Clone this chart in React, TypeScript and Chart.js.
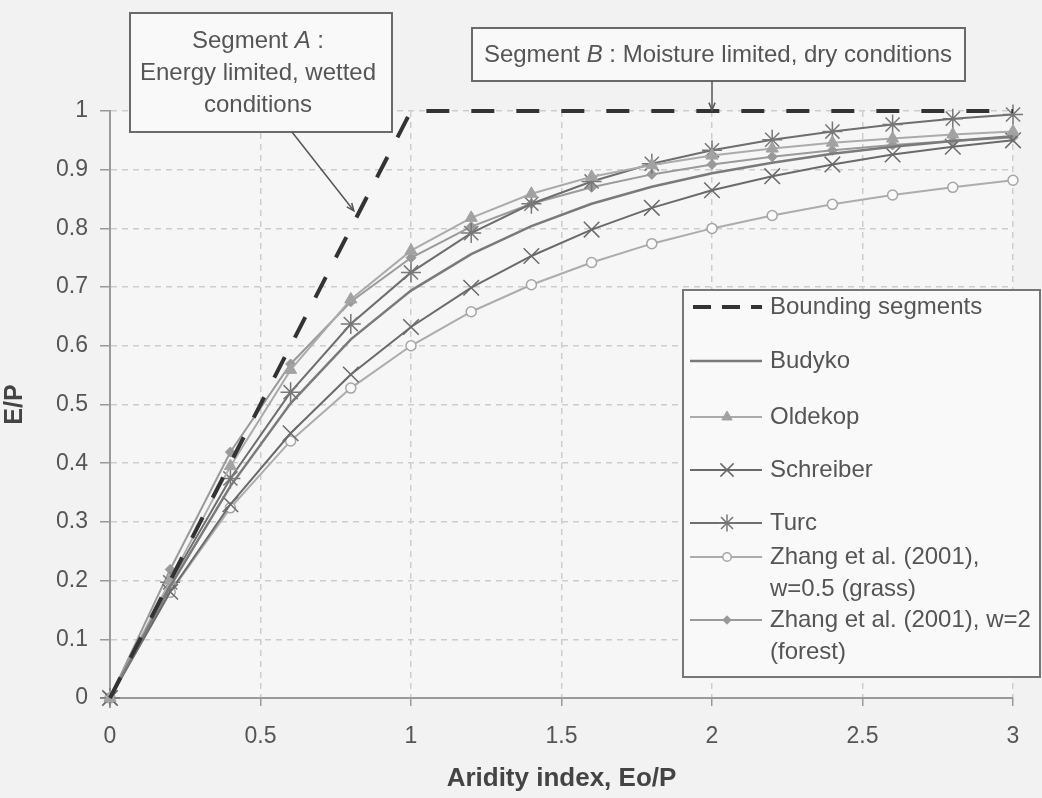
import React, { useEffect, useRef } from 'react';
import { Chart, registerables } from 'chart.js';
import { drawPoint } from 'chart.js/helpers';

Chart.register(...registerables);

const FONT = "'Liberation Sans', Arial, Helvetica, sans-serif";

// ---- data ----
const aridity = [0, 0.2, 0.4, 0.6, 0.8, 1.0, 1.2, 1.4, 1.6, 1.8, 2.0, 2.2, 2.4, 2.6, 2.8, 3.0];
const boundX = [0, 1, 3];
const boundY = [0, 1, 1];
const budyko = [0, 0.190, 0.361, 0.502, 0.611, 0.694, 0.756, 0.804, 0.842, 0.871, 0.894, 0.912, 0.927, 0.939, 0.949, 0.957];
const oldekop = [0, 0.200, 0.395, 0.559, 0.679, 0.762, 0.818, 0.859, 0.888, 0.908, 0.924, 0.936, 0.946, 0.953, 0.960, 0.965];
const schreiber = [0, 0.181, 0.330, 0.451, 0.551, 0.632, 0.699, 0.753, 0.798, 0.835, 0.865, 0.889, 0.909, 0.926, 0.939, 0.950];
const turc = [0, 0.197, 0.374, 0.521, 0.637, 0.725, 0.792, 0.842, 0.880, 0.910, 0.933, 0.951, 0.965, 0.977, 0.987, 0.994];
const zhangGrass = [0, 0.180, 0.324, 0.438, 0.528, 0.600, 0.658, 0.704, 0.742, 0.774, 0.800, 0.822, 0.841, 0.857, 0.870, 0.882];
const zhangForest = [0, 0.219, 0.419, 0.569, 0.675, 0.750, 0.803, 0.842, 0.870, 0.892, 0.909, 0.922, 0.933, 0.942, 0.949, 0.955];

const seriesNames = [
  'Bounding segments',
  'Budyko',
  'Oldekop',
  'Schreiber',
  'Turc',
  'Zhang et al. (2001),\nw=0.5 (grass)',
  'Zhang et al. (2001), w=2\n(forest)',
];

const xTitle = 'Aridity index, Eo/P';
const yTitle = 'E/P';

const toXY = (xs: number[], ys: number[]) => xs.map((x, i) => ({ x, y: ys[i] }));

function drawRich(ctx: CanvasRenderingContext2D, parts: [string, boolean][], cx: number, cy: number, size: number) {
  const widths: number[] = [];
  let total = 0;
  for (const [t, it] of parts) {
    ctx.font = `${it ? 'italic ' : ''}${size}px ${FONT}`;
    const w = ctx.measureText(t).width;
    widths.push(w);
    total += w;
  }
  let x = cx - total / 2;
  ctx.textAlign = 'left';
  ctx.textBaseline = 'middle';
  parts.forEach(([t, it], i) => {
    ctx.font = `${it ? 'italic ' : ''}${size}px ${FONT}`;
    ctx.fillText(t, x, cy);
    x += widths[i];
  });
}

function arrow(ctx: CanvasRenderingContext2D, x1: number, y1: number, x2: number, y2: number) {
  ctx.beginPath();
  ctx.moveTo(x1, y1);
  ctx.lineTo(x2, y2);
  ctx.stroke();
  const a = Math.atan2(y2 - y1, x2 - x1);
  const L = 8;
  ctx.beginPath();
  ctx.moveTo(x2 - L * Math.cos(a - 0.4), y2 - L * Math.sin(a - 0.4));
  ctx.lineTo(x2, y2);
  ctx.lineTo(x2 - L * Math.cos(a + 0.4), y2 - L * Math.sin(a + 0.4));
  ctx.stroke();
}

const bgPlugin = {
  id: 'bg',
  beforeDraw(chart: any) {
    const { ctx, width, height } = chart;
    ctx.save();
    ctx.fillStyle = '#f2f2f2';
    ctx.fillRect(0, 0, width, height);
    const ca = chart.chartArea;
    ctx.fillStyle = '#f6f6f6';
    ctx.fillRect(ca.left, ca.top, ca.right - ca.left, ca.bottom - ca.top);
    ctx.restore();
  },
};

const overlayPlugin = {
  id: 'overlay',
  afterDraw(chart: any) {
    const { ctx } = chart;
    const xs = chart.scales.x;
    const ys = chart.scales.y;
    ctx.save();

    // Annotation box A
    ctx.fillStyle = '#f9f9f9';
    ctx.strokeStyle = '#6a6a6a';
    ctx.lineWidth = 2;
    ctx.fillRect(130, 13, 262, 119);
    ctx.strokeRect(130, 13, 262, 119);
    ctx.fillStyle = '#555';
    drawRich(ctx, [['Segment ', false], ['A', true], [' :', false]], 258, 41, 24);
    drawRich(ctx, [['Energy limited, wetted', false]], 258, 73, 24);
    drawRich(ctx, [['conditions', false]], 258, 105, 24);
    ctx.strokeStyle = '#555';
    ctx.lineWidth = 1.5;
    arrow(ctx, 292, 132, xs.getPixelForValue(0.81), ys.getPixelForValue(0.83));

    // Annotation box B
    ctx.fillStyle = '#f9f9f9';
    ctx.strokeStyle = '#6a6a6a';
    ctx.lineWidth = 2;
    ctx.fillRect(472, 28, 493, 53);
    ctx.strokeRect(472, 28, 493, 53);
    ctx.fillStyle = '#555';
    drawRich(ctx, [['Segment ', false], ['B', true], [' : Moisture limited, dry conditions', false]], 718, 55, 24);
    ctx.strokeStyle = '#555';
    ctx.lineWidth = 1.5;
    arrow(ctx, xs.getPixelForValue(2), 81, xs.getPixelForValue(2), ys.getPixelForValue(1) - 1);

    // Legend
    const L = { left: 683, top: 290, right: 1040, bottom: 677 };
    ctx.fillStyle = '#f9f9f9';
    ctx.strokeStyle = '#777';
    ctx.lineWidth = 2;
    ctx.fillRect(L.left, L.top, L.right - L.left, L.bottom - L.top);
    ctx.strokeRect(L.left, L.top, L.right - L.left, L.bottom - L.top);
    const rowY = [307, 361, 417, 470, 523, 557, 620];
    const lineGap = 32;
    const sx1 = 690, sx2 = 762, mx = 727, tx = 770;
    chart.data.datasets.forEach((ds: any, i: number) => {
      const y = rowY[i];
      ctx.save();
      ctx.strokeStyle = ds.borderColor;
      ctx.lineWidth = i === 0 ? 4 : ds.borderWidth;
      ctx.setLineDash(i === 0 ? [18, 11] : []);
      ctx.beginPath();
      ctx.moveTo(i === 0 ? 693 : sx1, y);
      ctx.lineTo(sx2, y);
      ctx.stroke();
      ctx.restore();
      if (ds.pointRadius > 0) {
        ctx.save();
        ctx.fillStyle = ds.pointBackgroundColor;
        ctx.strokeStyle = ds.pointBorderColor;
        ctx.lineWidth = ds.pointBorderWidth;
        drawPoint(ctx, { pointStyle: ds.pointStyle, rotation: 0, radius: ds.pointRadius * 0.85, borderWidth: ds.pointBorderWidth }, mx, y);
        ctx.restore();
      }
      ctx.fillStyle = '#555';
      ctx.font = `24px ${FONT}`;
      ctx.textAlign = 'left';
      ctx.textBaseline = 'middle';
      const lines = String(ds.label).split('\n');
      lines.forEach((ln, k) => ctx.fillText(ln, tx, y + k * lineGap));
    });

    ctx.restore();
  },
};

export default function App() {
  const ref = useRef<HTMLCanvasElement | null>(null);

  useEffect(() => {
    if (!ref.current) return;
    const gridColor = '#cdcdcd';
    const chart = new Chart(ref.current, {
      type: 'line',
      data: {
        datasets: [
          {
            label: seriesNames[0],
            data: toXY(boundX, boundY),
            borderColor: '#333333',
            borderWidth: 4,
            borderDash: [23, 22],
            pointRadius: 0,
            clip: false,
          },
          {
            label: seriesNames[1],
            data: toXY(aridity, budyko),
            borderColor: '#7a7a7a',
            borderWidth: 2.5,
            pointRadius: 0,
            clip: false,
          },
          {
            label: seriesNames[2],
            data: toXY(aridity, oldekop),
            borderColor: '#ababab',
            borderWidth: 2,
            pointStyle: 'triangle',
            pointRadius: 7,
            pointBackgroundColor: '#a2a2a2',
            pointBorderColor: '#a2a2a2',
            pointBorderWidth: 1,
            clip: false,
          },
          {
            label: seriesNames[3],
            data: toXY(aridity, schreiber),
            borderColor: '#6a6a6a',
            borderWidth: 2,
            pointStyle: 'crossRot',
            pointRadius: 11,
            pointBackgroundColor: '#6a6a6a',
            pointBorderColor: '#6a6a6a',
            pointBorderWidth: 1.5,
            clip: false,
          },
          {
            label: seriesNames[4],
            data: toXY(aridity, turc),
            borderColor: '#6e6e6e',
            borderWidth: 2,
            pointStyle: 'star',
            pointRadius: 10,
            pointBackgroundColor: '#777',
            pointBorderColor: '#777',
            pointBorderWidth: 1.5,
            clip: false,
          },
          {
            label: seriesNames[5],
            data: toXY(aridity, zhangGrass),
            borderColor: '#acacac',
            borderWidth: 2,
            pointStyle: 'circle',
            pointRadius: 5,
            pointBackgroundColor: '#fafafa',
            pointBorderColor: '#a5a5a5',
            pointBorderWidth: 1.5,
            clip: false,
          },
          {
            label: seriesNames[6],
            data: toXY(aridity, zhangForest),
            borderColor: '#9a9a9a',
            borderWidth: 2,
            pointStyle: 'rectRot',
            pointRadius: 5,
            pointBackgroundColor: '#999',
            pointBorderColor: '#999',
            pointBorderWidth: 1,
            clip: false,
          },
        ],
      },
      options: {
        animation: false,
        responsive: false,
        devicePixelRatio: 1,
        layout: { padding: { left: 0, right: 29, top: 111, bottom: 0 } },
        plugins: {
          legend: { display: false },
          tooltip: { enabled: false },
        },
        elements: { line: { tension: 0 } },
        scales: {
          x: {
            type: 'linear',
            min: 0,
            max: 3,
            afterFit: (s: any) => { s.height = 100; },
            ticks: {
              stepSize: 0.5,
              padding: 17,
              color: '#555',
              font: { family: FONT, size: 23 },
              callback: (v: any) => String(Math.round(Number(v) * 10) / 10),
            },
            grid: { color: gridColor, lineWidth: 1.5, tickLength: 8, tickColor: '#999', tickWidth: 1.5 },
            border: { color: '#9a9a9a', width: 2, dash: [6, 5] },
            title: {
              display: true,
              text: xTitle,
              color: '#444',
              font: { family: FONT, size: 26, weight: 'bold' },
              padding: { top: 0, bottom: 4 },
            },
          },
          y: {
            type: 'linear',
            min: 0,
            max: 1,
            afterFit: (s: any) => { s.width = 110; },
            ticks: {
              stepSize: 0.1,
              padding: 12,
              color: '#555',
              font: { family: FONT, size: 23 },
              callback: (v: any) => String(Math.round(Number(v) * 10) / 10),
            },
            grid: { color: gridColor, lineWidth: 1.5, tickLength: 10, tickColor: '#999', tickWidth: 1.5 },
            border: { color: '#9a9a9a', width: 2, dash: [6, 5] },
            title: {
              display: true,
              text: yTitle,
              color: '#444',
              font: { family: FONT, size: 25, weight: 'bold' },
              padding: { top: 0, bottom: 0 },
            },
          },
        },
      },
      plugins: [bgPlugin, overlayPlugin],
    } as any);
    return () => chart.destroy();
  }, []);

  return (
    <div style={{ position: 'absolute', left: 0, top: 0, width: 1042, height: 798 }}>
      <canvas ref={ref} width={1042} height={798} style={{ display: 'block', width: 1042, height: 798 }} />
    </div>
  );
}
